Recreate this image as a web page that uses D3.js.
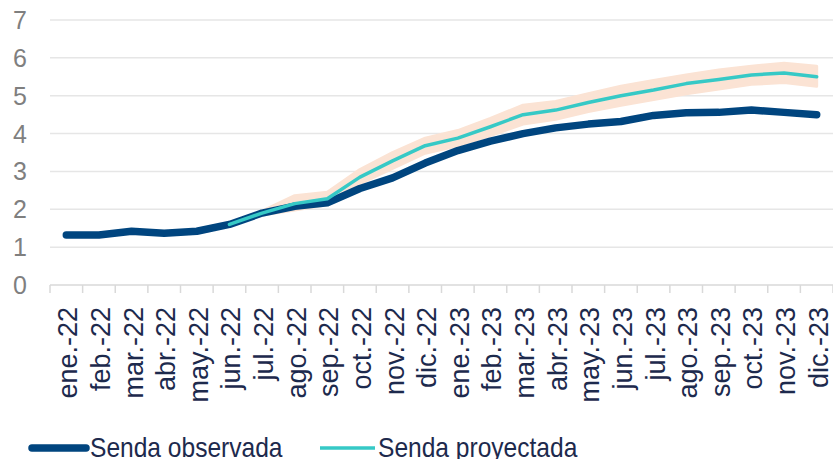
<!DOCTYPE html>
<html>
<head>
<meta charset="utf-8">
<script src="https://cdn.jsdelivr.net/npm/d3@7"></script>
<style>
  body { margin: 0; background: #fff; }
  svg { display: block; font-family: "Liberation Sans", Arial, sans-serif; }
</style>
</head>
<body>
<svg class="chart" width="833" height="459"></svg>
<script>
var months = ["ene.-22", "feb.-22", "mar.-22", "abr.-22", "may.-22", "jun.-22",
    "jul.-22", "ago.-22", "sep.-22", "oct.-22", "nov.-22", "dic.-22",
    "ene.-23", "feb.-23", "mar.-23", "abr.-23", "may.-23", "jun.-23",
    "jul.-23", "ago.-23", "sep.-23", "oct.-23", "nov.-23", "dic.-23"];

var observada = [1.32, 1.32, 1.42, 1.37, 1.42, 1.6, 1.9, 2.08, 2.17, 2.55, 2.83, 3.22,
    3.55, 3.8, 4.0, 4.15, 4.25, 4.32, 4.48, 4.55, 4.56, 4.62, 4.56, 4.5];

var proyectada = [null, null, null, null, null, 1.6, 1.9, 2.15, 2.28, 2.85, 3.28, 3.68,
    3.88, 4.18, 4.5, 4.62, 4.82, 5.0, 5.15, 5.32, 5.43, 5.55, 5.6, 5.5];

var bandaSup = [null, null, null, null, null, 1.62, 1.95, 2.36, 2.45, 3.05, 3.5, 3.88,
    4.08, 4.4, 4.75, 4.85, 5.05, 5.25, 5.4, 5.55, 5.68, 5.78, 5.86, 5.78];

var bandaInf = [null, null, null, null, null, 1.58, 1.85, 1.98, 2.12, 2.68, 3.08, 3.48,
    3.68, 3.95, 4.25, 4.38, 4.58, 4.75, 4.9, 5.05, 5.18, 5.3, 5.35, 5.25];

var yTicks = [0, 1, 2, 3, 4, 5, 6, 7];

var svg = d3.select(".chart");

var plotLeft = 50, plotRight = 833, plotTop = 20, plotBottom = 285;

var xScale = d3.scaleBand().domain(months).range([plotLeft, plotRight]).padding(0);
var yScale = d3.scaleLinear().domain([0, 7]).range([plotBottom, plotTop]);

function cx(i) { return xScale(months[i]) + xScale.bandwidth() / 2; }

// gridlines
svg.append("g")
    .selectAll("line")
    .data(yTicks.slice(1))
    .enter()
    .append("line")
    .attr("x1", plotLeft)
    .attr("x2", plotRight)
    .attr("y1", function(d) { return yScale(d); })
    .attr("y2", function(d) { return yScale(d); })
    .attr("stroke", "#e6e6e6")
    .attr("stroke-width", 1.5);

// y labels
svg.append("g")
    .selectAll("text")
    .data(yTicks)
    .enter()
    .append("text")
    .attr("x", 27)
    .attr("y", function(d) { return yScale(d); })
    .attr("dy", "0.36em")
    .attr("text-anchor", "end")
    .attr("fill", "#7f7f7f")
    .style("font-size", "25px")
    .text(function(d) { return d; });

// x axis
var xAxis = svg.append("g")
    .attr("transform", "translate(0," + plotBottom + ")");

xAxis.append("line")
    .attr("x1", plotLeft)
    .attr("x2", plotRight)
    .attr("stroke", "#d9d9d9")
    .attr("stroke-width", 1.5);

var bounds = months.map(function(m) { return xScale(m); }).concat([plotRight]);
xAxis.selectAll(".tk")
    .data(bounds)
    .enter()
    .append("line")
    .attr("class", "tk")
    .attr("x1", function(d) { return d; })
    .attr("x2", function(d) { return d; })
    .attr("y1", 0)
    .attr("y2", 8)
    .attr("stroke", "#d9d9d9")
    .attr("stroke-width", 1.5);

svg.append("g")
    .selectAll("text")
    .data(months)
    .enter()
    .append("text")
    .attr("transform", function(d, i) { return "translate(" + (cx(i) + 11) + ",307) rotate(-90)"; })
    .attr("text-anchor", "end")
    .attr("fill", "#1d2a4d")
    .style("font-size", "27px")
    .text(function(d) { return d; });

// band
var band = d3.area()
    .defined(function(d) { return d.hi != null; })
    .x(function(d) { return cx(d.i); })
    .y0(function(d) { return yScale(d.lo); })
    .y1(function(d) { return yScale(d.hi); });

var bandData = months.map(function(m, i) { return { i: i, hi: bandaSup[i], lo: bandaInf[i] }; });

svg.append("path")
    .datum(bandData)
    .attr("d", band)
    .attr("fill", "#fbe3d4")
    .attr("stroke", "#fbe3d4")
    .attr("stroke-width", 3)
    .attr("stroke-linejoin", "round");

var line = d3.line()
    .defined(function(d) { return d.v != null; })
    .x(function(d) { return cx(d.i); })
    .y(function(d) { return yScale(d.v); });

svg.append("path")
    .datum(observada.map(function(v, i) { return { i: i, v: v }; }))
    .attr("d", line)
    .attr("fill", "none")
    .attr("stroke", "#00457f")
    .attr("stroke-width", 7.5)
    .attr("stroke-linecap", "round")
    .attr("stroke-linejoin", "round");

svg.append("path")
    .datum(proyectada.map(function(v, i) { return { i: i, v: v }; }))
    .attr("d", line)
    .attr("fill", "none")
    .attr("stroke", "#36c9c6")
    .attr("stroke-width", 3.5)
    .attr("stroke-linecap", "round")
    .attr("stroke-linejoin", "round");

// legend
var legend = svg.append("g");

legend.append("line")
    .attr("x1", 32).attr("x2", 86)
    .attr("y1", 448).attr("y2", 448)
    .attr("stroke", "#00457f")
    .attr("stroke-width", 7.5)
    .attr("stroke-linecap", "round");

legend.append("text")
    .attr("transform", "translate(90,457) scale(0.91,1)")
    .attr("fill", "#1d2a4d")
    .style("font-size", "27px")
    .text("Senda observada");

legend.append("line")
    .attr("x1", 320).attr("x2", 375)
    .attr("y1", 448).attr("y2", 448)
    .attr("stroke", "#36c9c6")
    .attr("stroke-width", 3.5);

legend.append("text")
    .attr("transform", "translate(378,457) scale(0.91,1)")
    .attr("fill", "#1d2a4d")
    .style("font-size", "27px")
    .text("Senda proyectada");
</script>
</body>
</html>
